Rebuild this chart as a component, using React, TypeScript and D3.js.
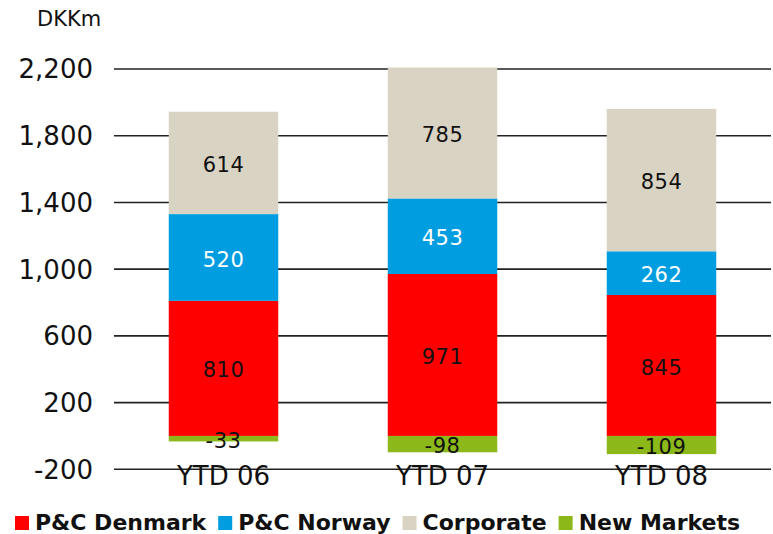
import React from "react";
import * as d3 from "d3";

const categories = ["YTD 06", "YTD 07", "YTD 08"];
const seriesNames = ["P&C Denmark", "P&C Norway", "Corporate", "New Markets"];
const denmark = [810, 971, 845];
const norway = [520, 453, 262];
const corporate = [614, 785, 854];
const newMarkets = [-33, -98, -109];
const yTicks = [-200, 200, 600, 1000, 1400, 1800, 2200];
const unitLabel = "DKKm";

const colors = ["#FF0000", "#009EE0", "#D8D3C2", "#8CB919"];
const labelColors = ["#111", "#fff", "#111", "#111"];

const W = 773;
const H = 534;
const FONT = "'DejaVu Sans', Verdana, sans-serif";

function measure(text: string, font: string): number {
  const c = document.createElement("canvas");
  const ctx = c.getContext("2d")!;
  ctx.font = font;
  return ctx.measureText(text).width;
}

const fmtBase = d3.format(",");
const fmt = (v: number) => fmtBase(v).replace("\u2212", "-");

export default function App() {
  const rows = categories.map((c, i) => ({
    cat: c,
    "P&C Denmark": denmark[i],
    "P&C Norway": norway[i],
    Corporate: corporate[i],
    "New Markets": newMarkets[i],
  }));
  const stack = d3
    .stack<any>()
    .keys(seriesNames)
    .offset(d3.stackOffsetDiverging);
  const series = stack(rows);

  const x = d3
    .scaleBand<string>()
    .domain(categories)
    .range([114, 771])
    .paddingInner(0.5)
    .paddingOuter(0.25);
  const y = d3.scaleLinear().domain([-200, 2200]).range([469.3, 69]);

  // legend layout
  const legendSize = 22;
  const legendFont = `bold ${legendSize}px ${FONT}`;
  let lx = 15;
  const legendItems = seriesNames.map((name, i) => {
    const item = { name, x: lx, color: colors[i] };
    lx += 20 + measure(name, legendFont) + 12;
    return item;
  });

  return (
    <svg width={W} height={H} style={{ position: "absolute", left: 0, top: 0 }} fontFamily={FONT}>
      <rect width={W} height={H} fill="#fff" />
      <text x={37} y={26} fontSize={21} fill="#111">
        {unitLabel}
      </text>
      {yTicks.map((t) => (
        <g key={t}>
          <line x1={114} x2={771} y1={y(t)} y2={y(t)} stroke="#222" strokeWidth={1.6} />
          <text x={93} y={y(t)} dy="0.36em" textAnchor="end" fontSize={26} fill="#111">
            {fmt(t)}
          </text>
        </g>
      ))}
      {series.map((s, si) =>
        s.map((d, ci) => {
          const y0 = y(d[0]);
          const y1 = y(d[1]);
          const top = Math.min(y0, y1);
          const h = Math.abs(y1 - y0);
          return (
            <rect
              key={`${si}-${ci}`}
              x={x(categories[ci])!}
              y={top}
              width={x.bandwidth()}
              height={h}
              fill={colors[si]}
            />
          );
        })
      )}
      {series.map((s, si) =>
        s.map((d, ci) => {
          const mid = (y(d[0]) + y(d[1])) / 2 + 1.5;
          const v = rows[ci][seriesNames[si] as keyof (typeof rows)[0]] as number;
          return (
            <text
              key={`l${si}-${ci}`}
              x={x(categories[ci])! + x.bandwidth() / 2}
              y={mid}
              dy="0.36em"
              textAnchor="middle"
              fontSize={21}
              letterSpacing={0.5}
              fill={labelColors[si]}
            >
              {fmt(v)}
            </text>
          );
        })
      )}
      {categories.map((c) => (
        <text
          key={c}
          x={x(c)! + x.bandwidth() / 2}
          y={485}
          textAnchor="middle"
          fontSize={26}
          fill="#111"
        >
          {c}
        </text>
      ))}
      {legendItems.map((it) => (
        <g key={it.name}>
          <rect x={it.x} y={516} width={14} height={14} fill={it.color} />
          <text x={it.x + 20} y={530} fontSize={legendSize} fontWeight="bold" fill="#111">
            {it.name}
          </text>
        </g>
      ))}
    </svg>
  );
}
